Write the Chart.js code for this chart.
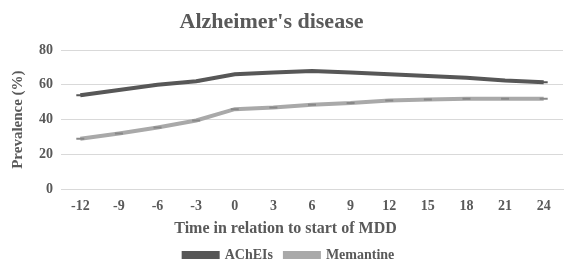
<!DOCTYPE html>
<html>
<head>
<meta charset="utf-8">
<script src="https://cdn.jsdelivr.net/npm/chart.js@4/dist/chart.umd.min.js"></script>
<style>
  html, body { margin: 0; padding: 0; background: #fff; }
  #wrap { position: relative; width: 569px; height: 263px; }
  .lbl {
    position: absolute; left: 0; width: 569px;
    text-align: center; color: #595959; white-space: nowrap;
    font-family: 'Liberation Serif', 'Times New Roman', serif; font-weight: bold;
  }
  #title { top: 8px; width: 543px; font-size: 22px; }
  #xtitle { top: 219px; width: 571px; font-size: 16px; }
</style>
</head>
<body>
<div id="wrap">
  <div id="title" class="lbl">Alzheimer's disease</div>
  <canvas id="myChart"></canvas>
  <div id="xtitle" class="lbl">Time in relation to start of MDD</div>
</div>
<script>
const months = ["-12", "-9", "-6", "-3", "0", "3", "6", "9", "12", "15", "18", "21", "24"];
const acheis = [54, 57, 60, 62, 66, 67, 68, 67, 66, 65, 64, 62.5, 61.5];
const memantine = [29, 32, 35.5, 39.5, 46, 47, 48.5, 49.5, 51, 51.5, 52, 52, 52];

const grey = "#595959";
const font = "'Liberation Serif', 'Times New Roman', serif";

new Chart(document.getElementById("myChart"), {
    type: "line",
    data: {
        labels: months,
        datasets: [
            {
                label: "AChEIs",
                data: acheis,
                borderColor: "#575757",
                backgroundColor: "#575757",
                borderWidth: 4,
                pointStyle: "line",
                pointRadius: 4,
                pointBorderWidth: 2,
                tension: 0,
            },
            {
                label: "Memantine",
                data: memantine,
                borderColor: "#a9a9a9",
                backgroundColor: "#a9a9a9",
                borderWidth: 4,
                pointStyle: "line",
                pointRadius: 4,
                pointBorderWidth: 2,
                pointBorderColor: "#888888",
                tension: 0,
            },
        ],
    },
    options: {
        responsive: true,
        maintainAspectRatio: false,
        animation: false,
        layout: { padding: { left: 9, right: 0, top: 50, bottom: -9 } },
        plugins: {
            title: { display: false },
            legend: {
                position: "bottom",
                labels: {
                    color: grey,
                    font: { family: font, size: 14, weight: "bold" },
                    boxWidth: 34,
                    boxHeight: 4,
                    padding: 12,
                },
            },
            tooltip: { enabled: false },
        },
        scales: {
            x: {
                offset: true,
                grid: { display: false },
                border: { color: "#d9d9d9" },
                ticks: { color: grey, font: { family: font, size: 14, weight: "bold" }, padding: 1 },
                afterFit: (axis) => { axis.height += 20; },
            },
            y: {
                min: 0,
                max: 80,
                ticks: { stepSize: 20, color: grey, font: { family: font, size: 14, weight: "bold" }, padding: 8 },
                grid: { color: "#d9d9d9", drawTicks: false },
                border: { display: false },
                title: {
                    display: true,
                    text: "Prevalence (%)",
                    color: grey,
                    font: { family: font, size: 15, weight: "bold" },
                    padding: { top: 0, bottom: 4 },
                },
            },
        },
    },
});
</script>
</body>
</html>
